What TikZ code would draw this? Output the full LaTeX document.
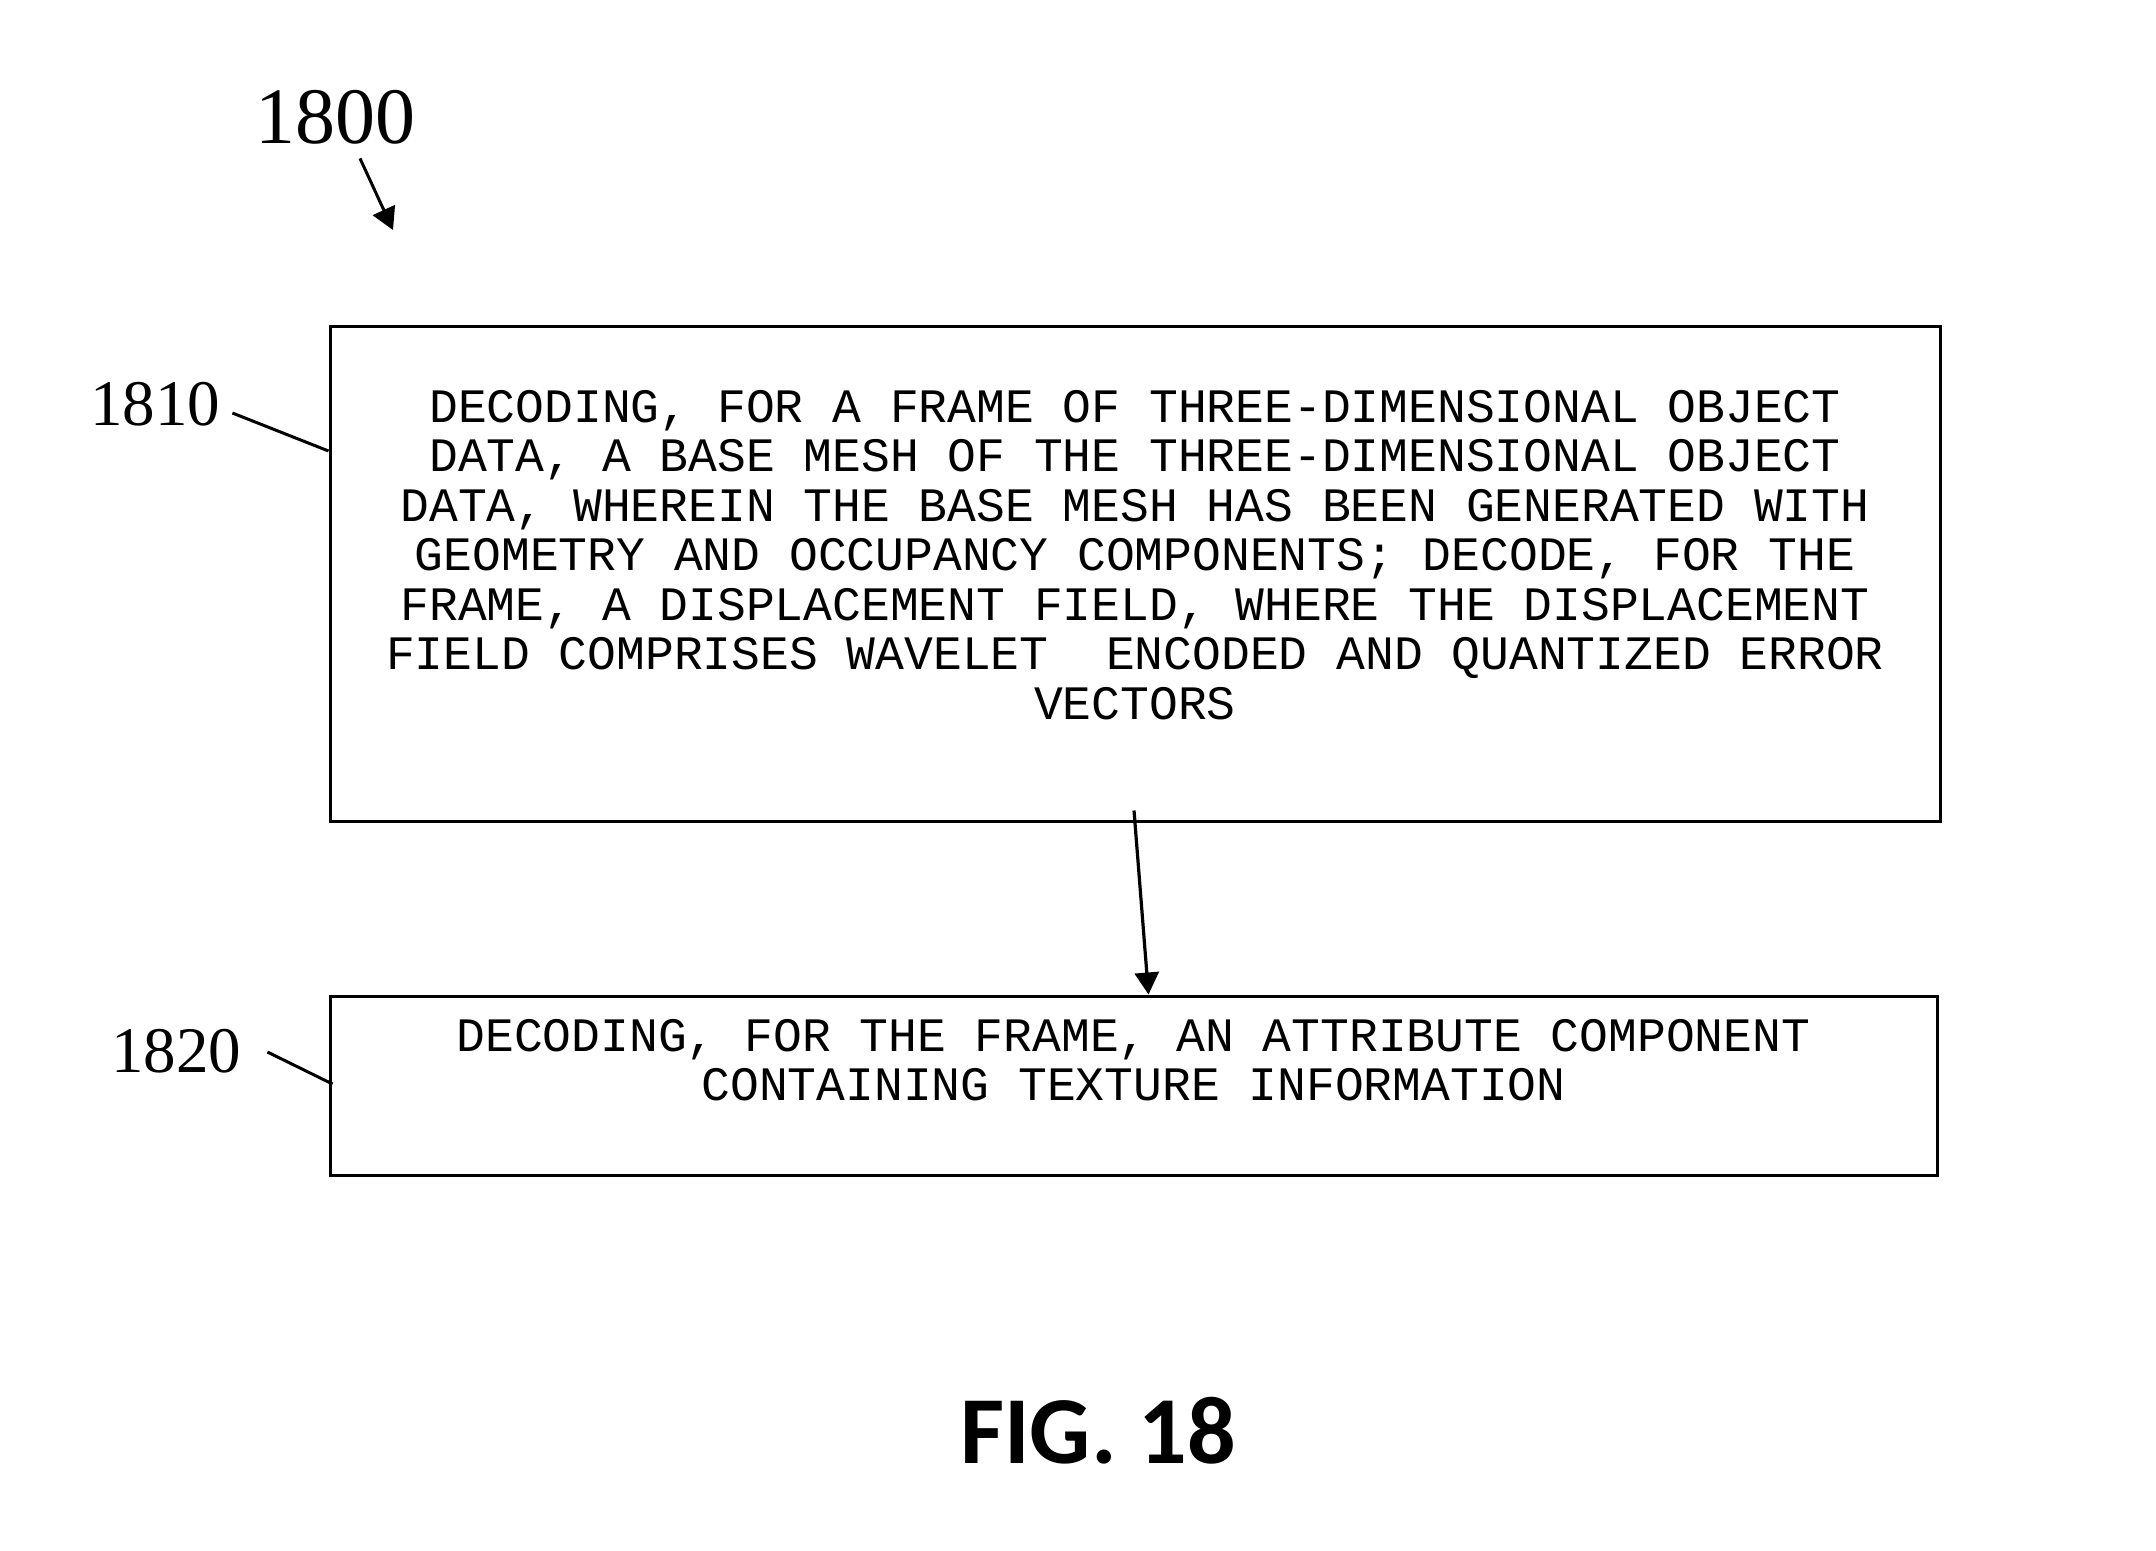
\documentclass[tikz,border=0pt]{standalone}
\usepackage{fontspec}
\setmainfont{Liberation Serif}
\newfontfamily\boxfont{Liberation Mono}
\newfontfamily\figfont{Carlito}
\usetikzlibrary{arrows.meta,positioning}

\begin{document}
\begin{tikzpicture}[x=0.5pt,y=-0.5pt,>={Triangle[length=11pt,width=12pt]},
    stepbox/.style={draw,line width=1.5pt,inner sep=0pt},
    steptext/.style={inner sep=0pt,align=center,anchor=north,
        font=\boxfont\fontsize{24pt}{24.75pt}\selectfont},
    refnum/.style={inner sep=0pt,font=\fontsize{32.5pt}{34pt}\selectfont},
    leader/.style={line width=1.5pt}]
        % page size
        \useasboundingbox (0,0) rectangle (2156,1551);

        % the two steps
        \node[stepbox,minimum width=805pt,minimum height=247pt] (b1810) at (1135,574) {};
        \node[stepbox,minimum width=803.5pt,minimum height=89.5pt] (b1820) at (1133.5,1085.5) {};

        \node[steptext] (t1810) at ([yshift=-32pt]b1810.north) {%
            DECODING, FOR A FRAME OF THREE-DIMENSIONAL OBJECT\\
            DATA, A BASE MESH OF THE THREE-DIMENSIONAL OBJECT\\
            DATA, WHEREIN THE BASE MESH HAS BEEN GENERATED WITH\\
            GEOMETRY AND OCCUPANCY COMPONENTS; DECODE, FOR THE\\
            FRAME, A DISPLACEMENT FIELD, WHERE THE DISPLACEMENT\\
            FIELD COMPRISES WAVELET\ \ ENCODED AND QUANTIZED ERROR\\
            VECTORS};
        \node[steptext] (t1820) at ([yshift=-12pt]b1820.north) {%
            DECODING, FOR THE FRAME, AN ATTRIBUTE COMPONENT\\
            CONTAINING TEXTURE INFORMATION};

        % flow between the steps
        \draw[->,line width=1.6pt] ([xshift=-0.5pt,yshift=6pt]b1810.south)
            -- ([xshift=7.5pt]b1820.north);

        % reference numerals
        \node[refnum,font=\fontsize{40pt}{42pt}\selectfont] (l1800) at (335,117) {1800};
        \node[refnum] (l1810) at (155,404) {1810};
        \node[refnum] (l1820) at (176,1051) {1820};

        \coordinate (c1800) at (393,230);
        \draw[->,leader] ([xshift=12.5pt,yshift=-7pt]l1800.south) -- (c1800);
        \draw[leader] ([xshift=6pt,yshift=-4.5pt]l1810.east) -- ([yshift=61.5pt]b1810.west);
        \draw[leader] ([xshift=13pt,yshift=-0.5pt]l1820.east) -- ([xshift=2pt,yshift=0.75pt]b1820.west);

        % caption
        \node[inner sep=0pt,font=\figfont\bfseries\fontsize{48pt}{50pt}\selectfont] (fig) at (1098,1431) {FIG. 18};
\end{tikzpicture}
\end{document}
